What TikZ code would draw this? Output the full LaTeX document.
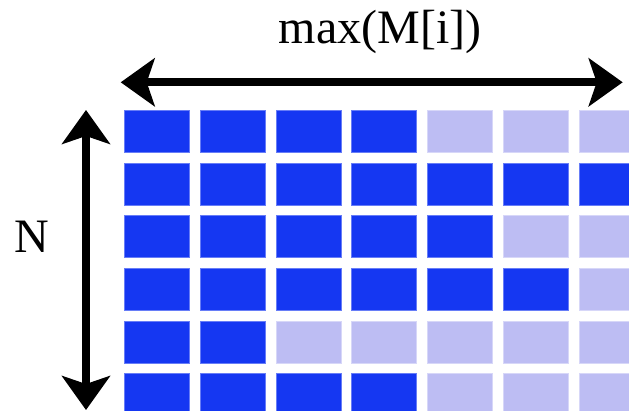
\documentclass[tikz,border=0pt]{standalone}
\usepackage{fontspec}
\setmainfont{Liberation Serif}
\usetikzlibrary{arrows.meta}
\definecolor{darkcell}{RGB}{21,55,242}
\definecolor{lightcell}{RGB}{189,189,243}
\tikzset{
  cellbox/.style={rectangle, inner sep=0pt, minimum width=65pt, minimum height=42pt, anchor=north west, line width=0.7pt},
  dk/.style={cellbox, fill=darkcell, draw=darkcell!65!white},
  lt/.style={cellbox, fill=lightcell, draw=lightcell!60!white},
  bigarrow/.style={line width=8pt, {Stealth[length=34pt,width=48pt,inset=8pt]}-{Stealth[length=34pt,width=48pt,inset=8pt]}},
  lbl/.style={font=\fontsize{48}{56}\selectfont, inner sep=0pt, anchor=base}
}
\begin{document}
\begin{tikzpicture}[x=1pt,y=1pt]
\useasboundingbox (0,0) rectangle (629,-411);
\clip (0,0) rectangle (629,-411);
\def\rowA{{1,1,1,1,0,0,0}}
\foreach \r/\pat in {1/{1,1,1,1,0,0,0},2/{1,1,1,1,1,1,1},3/{1,1,1,1,1,0,0},4/{1,1,1,1,1,1,0},5/{1,1,0,0,0,0,0},6/{1,1,1,1,0,0,0}}{
  \foreach \v [count=\c] in \pat {
    \pgfmathsetmacro{\xx}{124.3+75.7*(\c-1)}
    \pgfmathsetmacro{\yy}{-(110+52.67*(\r-1))}
    \ifnum\v=1
      \node[dk] (c-\r-\c) at (\xx,\yy) {};
    \else
      \node[lt] (c-\r-\c) at (\xx,\yy) {};
    \fi
  }
}
\coordinate (hl) at (120.7,-82.3);
\coordinate (hr) at (622.7,-82.3);
\coordinate (vt) at (86,-110);
\coordinate (vb) at (86,-410);
\draw[bigarrow] (hl) -- (hr);
\draw[bigarrow] (vt) -- (vb);
\node[lbl] (maxlbl) at (380,-44) {max(M[i])};
\node[lbl] (nlbl) at (32,-253) {N};
\end{tikzpicture}
\end{document}
